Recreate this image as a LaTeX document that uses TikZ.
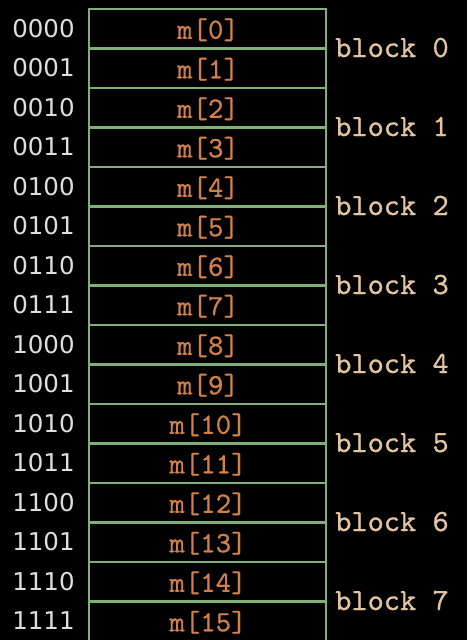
\documentclass[tikz,border=0pt]{standalone}
\usepackage{fontspec}
\newfontfamily\addrfont{DejaVu Sans}
\newfontfamily\cellfont{lmmono10-regular}[Extension=.otf, FakeBold=0.7]
\definecolor{gridgreen}{RGB}{128,176,118}
\definecolor{addrcol}{RGB}{222,222,222}
\definecolor{cellcol}{RGB}{208,128,72}
\definecolor{blkcol}{RGB}{226,196,160}
\tikzset{
  cell/.style={draw=gridgreen, line width=2.4pt, minimum width=237pt, minimum height=39.5pt, inner sep=0pt, outer sep=0pt},
  addr/.style={text=addrcol, font=\addrfont\fontsize{24.5}{26}\selectfont, inner sep=0pt, anchor=base},
  mlabel/.style={text=cellcol, font=\cellfont\fontsize{29.4}{31}\selectfont, inner sep=0pt, anchor=base},
  blk/.style={text=blkcol, font=\cellfont\fontsize{30.9}{32}\selectfont, inner sep=0pt, anchor=base west}
}
\begin{document}
\begin{tikzpicture}[x=1pt,y=-1pt]
\fill[black] (0,0) rectangle (467,640);
\useasboundingbox (0,0) rectangle (467,640);
\foreach \r/\b in {0/0000,1/0001,2/0010,3/0011,4/0100,5/0101,6/0110,7/0111,8/1000,9/1001,10/1010,11/1011,12/1100,13/1101,14/1110,15/1111}{
  \node[cell] (c\r) at (207.5, 28.75+39.5*\r) {};
  \node[mlabel] (m\r) at (208, 28.75+39.5*\r+10) {m[\r]};
  \node[addr] (a\r) at (43.5, 28.75+39.5*\r+8.5) {\b};
}
\foreach \k in {0,...,7}{
  \node[blk] (b\k) at (335, 48.5+79*\k+8.5) {block \k};
}
\end{tikzpicture}
\end{document}
